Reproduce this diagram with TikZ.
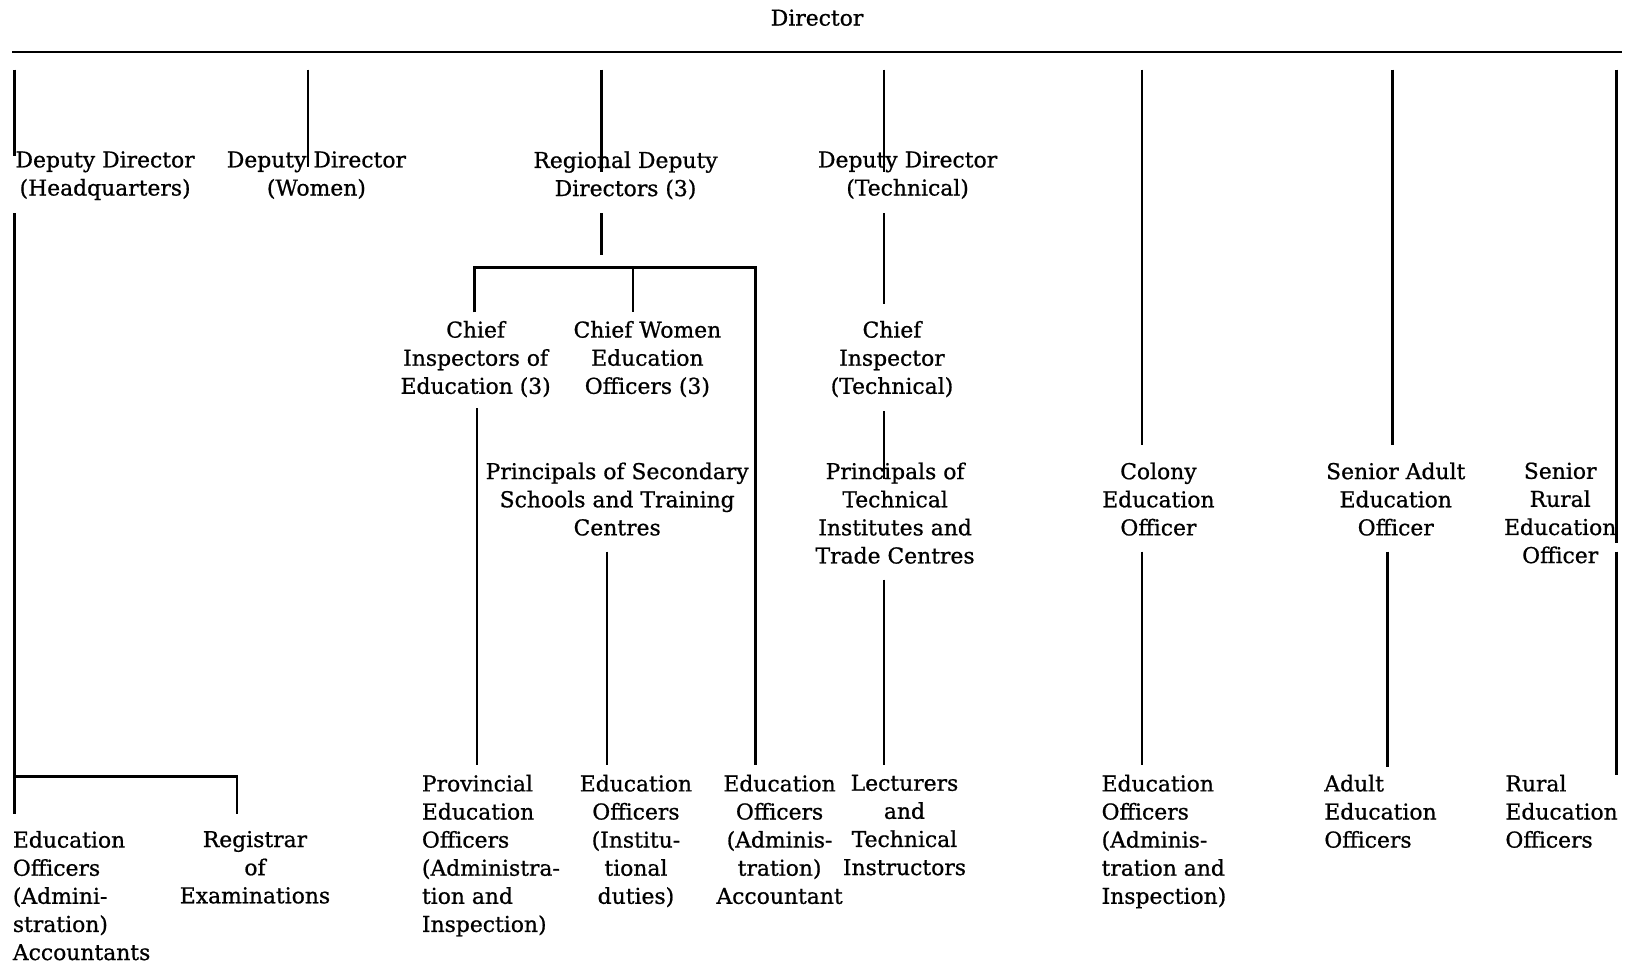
\documentclass[tikz,border=0pt]{standalone}
\usepackage{fontspec}
\setmainfont{DejaVu Serif}[FakeBold=0.8]
\begin{document}
\begin{tikzpicture}[x=0.5pt,y=-0.5pt,
  lbl/.style={inner sep=0pt, anchor=north, align=center, font=\fontsize{10.5}{13.5}\selectfont},
  lbll/.style={lbl, anchor=north west, align=left},
  conn/.style={line width=1.1pt, line cap=butt}]
\useasboundingbox (0,0) rectangle (1568,927);
% ---------- nodes ----------
\node[lbl, anchor=center] (dir) at (785,17) {Director};
\node[lbl] (dhq) at (101,145) {Deputy Director\\(Headquarters)};
\node[lbl] (dw) at (304,145) {Deputy Director\\(Women)};
\node[lbl] (rdd) at (601,145) {Regional Deputy\\Directors (3)};
\node[lbl] (ddt) at (872,145) {Deputy Director\\(Technical)};
\node[lbl] (cie) at (457,308) {Chief\\Inspectors of\\Education (3)};
\node[lbl] (cweo) at (622,308) {Chief Women\\Education\\Officers (3)};
\node[lbl] (cit) at (857,308) {Chief\\Inspector\\(Technical)};
\node[lbl] (pss) at (593,444) {Principals of Secondary\\Schools and Training\\Centres};
\node[lbl] (pti) at (860,444) {Principals of\\Technical\\Institutes and\\Trade Centres};
\node[lbl] (ceo) at (1113,444) {Colony\\Education\\Officer};
\node[lbl] (saeo) at (1341,444) {Senior Adult\\Education\\Officer};
\node[lbl] (sreo) at (1499,444) {Senior\\Rural\\Education\\Officer};
\node[lbll] (eoacc) at (12,798) {Education\\Officers\\(Admini-\\stration)\\Accountants};
\node[lbl] (reg) at (245,798) {Registrar\\of\\Examinations};
\node[lbll] (peo) at (405,744) {Provincial\\Education\\Officers\\(Administra-\\tion and\\Inspection)};
\node[lbl] (eoi) at (611,744) {Education\\Officers\\(Institu-\\tional\\duties)};
\node[lbl] (eoa) at (749,744) {Education\\Officers\\(Adminis-\\tration)\\Accountant};
\node[lbl] (lti) at (869,744) {Lecturers\\and\\Technical\\Instructors};
\node[lbll] (ceo2) at (1058,744) {Education\\Officers\\(Adminis-\\tration and\\Inspection)};
\node[lbll] (aeo) at (1272,744) {Adult\\Education\\Officers};
\node[lbll] (reo) at (1446,744) {Rural\\Education\\Officers};
% ---------- coordinates ----------
\coordinate (barL) at (12,50);
\coordinate (barR) at (1558,50);
\coordinate (v1) at (14,67);   \coordinate (v1e) at (14,150);
\coordinate (v2) at (296,67);  \coordinate (v2e) at (296,160);
\coordinate (v3) at (578,67);  \coordinate (v3e) at (578,165);
\coordinate (v4) at (849,67);  \coordinate (v4e) at (849,165);
\coordinate (v5) at (1097,67); \coordinate (v5e) at (1097,428);
\coordinate (v6) at (1338,67); \coordinate (v6e) at (1338,428);
\coordinate (v7) at (1553,67); \coordinate (v7e) at (1553,522);
% ---------- connectors ----------
\draw[conn] (barL) -- (barR);
\draw[conn] (v1) -- (v1e);
\draw[conn] (v2) -- (v2e);
\draw[conn] (v3) -- (v3e);
\draw[conn] (v4) -- (v4e);
\draw[conn] (v5) -- (v5e);
\draw[conn] (v6) -- (v6e);
\draw[conn] (v7) -- (v7e);
% Deputy Director (HQ) branch
\coordinate (hqa) at (14,205);
\coordinate (hqb) at (14,746);
\coordinate (hqc) at (228,746);
\draw[conn] (hqa) -- (hqb) -- (14,782);
\draw[conn] (hqb) -- (hqc) -- (228,782);
% Regional Deputy Directors branch
\coordinate (rda) at (578,205);
\coordinate (rdb) at (578,245);
\draw[conn] (rda) -- (rdb);
\coordinate (brL) at (456,257);
\coordinate (brM) at (608,257);
\coordinate (brR) at (726,257);
\draw[conn] (456,300) -- (brL) -- (brR) -- (726,735);
\draw[conn] (brM) -- (608,300);
\draw[conn] (458,392) -- (458,735);
\draw[conn] (583,530) -- (583,735);
% Technical branch
\draw[conn] (849,205) -- (849,292);
\draw[conn] (849,395) -- (849,460);
\draw[conn] (849,557) -- (849,735);
% Colony, Adult, Rural
\draw[conn] (1097,530) -- (1097,735);
\draw[conn] (1333,530) -- (1333,737);
\draw[conn] (1553,530) -- (1553,745);
\end{tikzpicture}
\end{document}
